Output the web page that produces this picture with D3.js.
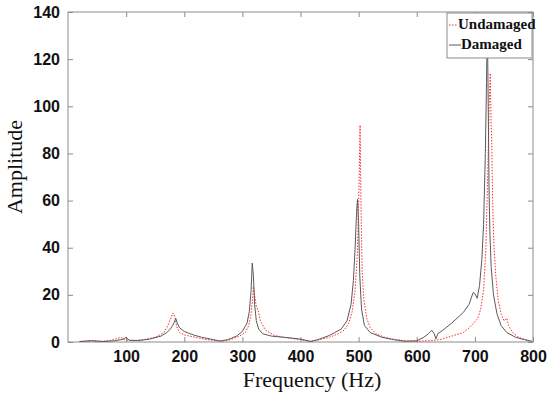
<!DOCTYPE html>
<html>
<head>
<meta charset="utf-8">
<script src="https://cdn.jsdelivr.net/npm/d3@7"></script>
<style>
  body { margin: 0; background: #fff; }
  svg { display: block; }
</style>
</head>
<body>
<svg id="chart" width="550" height="398"></svg>
<script>
// frequency (Hz) / amplitude pairs
var damagedFreq = [20, 40, 60, 80, 95, 100, 105, 120, 140, 160, 170, 176, 180, 183, 185.5, 188, 192, 200, 210, 216, 230, 250, 262, 275, 290, 300, 308, 312, 315, 317, 319, 321, 324, 328, 335, 350, 380, 400, 418, 430, 450, 470, 480, 487, 491, 494, 496.5, 498, 500, 502, 505, 510, 520, 540, 560, 580, 600, 612, 620, 626, 630, 633, 636, 645, 660, 680, 690, 697, 700, 704, 708, 712, 715, 718, 720, 721.5, 723, 724.5, 726, 728, 732, 738, 745, 755, 770, 785, 798];
var damagedAmp = [0.2, 0.6, 0.2, 0.5, 1.2, 2.0, 0.8, 0.6, 1.2, 2.5, 4, 5.5, 7, 8.5, 10, 8, 6, 4.5, 3.5, 3, 2, 1, 0.4, 1, 2.5, 4.5, 8, 13, 22, 33.5, 28, 16, 9, 5.5, 3.5, 2.5, 1.8, 1.2, 0.2, 1, 2.8, 5.5, 9, 16, 26, 40, 55, 60.5, 50, 28, 14, 7, 4, 2, 1, 0.3, 0.5, 2, 3.5, 5, 3.5, 1.3, 3.5, 5, 8, 12.5, 16, 21, 20.5, 18.5, 24, 35, 50, 80, 110, 135, 100, 62, 45, 32, 20, 12, 7, 4, 2, 1, 0.3];

var undamagedFreq = [20, 40, 60, 75, 85, 91, 97, 110, 130, 150, 165, 172, 176, 179, 181, 184, 187, 192, 200, 215, 235, 255, 265, 280, 295, 305, 311, 315, 317.5, 319, 321, 324, 327, 331, 340, 355, 375, 400, 415, 430, 450, 465, 475, 483, 489, 494, 498, 501, 502.5, 504, 506, 509, 514, 520, 530, 545, 560, 580, 600, 620, 640, 660, 680, 690, 698, 705, 710, 715, 719, 722, 724.5, 726.5, 728, 729, 730.5, 733, 736, 740, 745, 750, 755, 758, 765, 775, 790, 798];
var undamagedAmp = [0.2, 0.4, 0.3, 0.8, 1.5, 2, 1, 0.5, 1, 2, 4, 7, 9.5, 11.5, 12.3, 10.5, 6.5, 4, 3, 2.2, 1.2, 0.5, 0.4, 1, 2.5, 4, 7, 12, 18, 23.5, 20, 15, 13.5, 9, 5, 2.8, 1.8, 1, 0.3, 0.8, 2, 3.5, 5, 8, 13, 22, 38, 70, 92, 60, 30, 18, 10, 6, 3.5, 2, 1.2, 0.5, 0.3, 0.5, 1, 2.5, 4, 6, 8, 10, 14, 22, 40, 70, 100, 114, 92, 86, 60, 40, 28, 18, 12, 9, 10, 7, 4, 2, 0.8, 0.3];

var xTicks = [100, 200, 300, 400, 500, 600, 700, 800];
var yTicks = [0, 20, 40, 60, 80, 100, 120, 140];
var legendNames = ["Undamaged", "Damaged"];

var margin = {left: 68, right: 17, top: 12, bottom: 56};
var width = 550 - margin.left - margin.right;
var height = 398 - margin.top - margin.bottom;

var svg = d3.select("#chart");
var g = svg.append("g").attr("transform", "translate(" + margin.left + "," + margin.top + ")");

var x = d3.scaleLinear().domain([0, 800]).range([0, width]);
var y = d3.scaleLinear().domain([0, 140]).range([height, 0]);

var axisColor = "#8c8c8c";
var damagedColor = "#5a5a5a";
var undamagedColor = "#ff2a2a";

// box
g.append("rect")
  .attr("width", width)
  .attr("height", height)
  .attr("fill", "none")
  .attr("stroke", axisColor)
  .attr("stroke-width", 1);

// inward ticks on all four sides
var tickLen = 5;
var bottomAxis = g.append("g").attr("transform", "translate(0," + height + ")")
  .call(d3.axisBottom(x).tickValues(xTicks).tickSizeInner(-tickLen).tickSizeOuter(0).tickPadding(9));
var topAxis = g.append("g")
  .call(d3.axisTop(x).tickValues(xTicks).tickSizeInner(-tickLen).tickSizeOuter(0).tickFormat(""));
var leftAxis = g.append("g")
  .call(d3.axisLeft(y).tickValues(yTicks).tickSizeInner(-tickLen).tickSizeOuter(0).tickPadding(8));
var rightAxis = g.append("g").attr("transform", "translate(" + width + ",0)")
  .call(d3.axisRight(y).tickValues(yTicks).tickSizeInner(-tickLen).tickSizeOuter(0).tickFormat(""));

[bottomAxis, topAxis, leftAxis, rightAxis].forEach(function(ax) {
  ax.select(".domain").remove();
  ax.selectAll("line").attr("stroke", axisColor);
  ax.selectAll("text")
    .attr("fill", "#111")
    .style("font-family", "Arial, 'Liberation Sans', sans-serif")
    .style("font-size", "16px")
    .style("font-weight", "bold");
});

var line = d3.line()
  .x(function(d) { return x(d[0]); })
  .y(function(d) { return y(d[1]); });

var undamaged = undamagedFreq.map(function(f, i) { return [f, undamagedAmp[i]]; });
var damaged = damagedFreq.map(function(f, i) { return [f, damagedAmp[i]]; });

g.append("path")
  .datum(undamaged)
  .attr("d", line)
  .attr("fill", "none")
  .attr("stroke", undamagedColor)
  .attr("stroke-width", 1)
  .attr("stroke-dasharray", "1.5,1.5");

g.append("path")
  .datum(damaged)
  .attr("d", line)
  .attr("fill", "none")
  .attr("stroke", damagedColor)
  .attr("stroke-width", 1);

// axis titles
svg.append("text")
  .attr("x", 312)
  .attr("y", 387)
  .attr("text-anchor", "middle")
  .style("font-family", "'Liberation Serif', 'Times New Roman', serif")
  .style("font-size", "22px")
  .attr("fill", "#111")
  .text("Frequency (Hz)");

svg.append("text")
  .attr("transform", "translate(22,167) rotate(-90)")
  .attr("text-anchor", "middle")
  .style("font-family", "'Liberation Serif', 'Times New Roman', serif")
  .style("font-size", "22px")
  .attr("fill", "#111")
  .text("Amplitude");

// legend
var leg = svg.append("g").attr("transform", "translate(447,13)");
leg.append("rect")
  .attr("width", 85)
  .attr("height", 45)
  .attr("fill", "#fff")
  .attr("stroke", axisColor);

leg.append("line")
  .attr("x1", 2).attr("x2", 11).attr("y1", 12).attr("y2", 12)
  .attr("stroke", undamagedColor).attr("stroke-dasharray", "1.5,1.5");
leg.append("line")
  .attr("x1", 2).attr("x2", 14).attr("y1", 32).attr("y2", 32)
  .attr("stroke", damagedColor);

leg.selectAll("text.name")
  .data(legendNames)
  .enter().append("text")
  .attr("class", "name")
  .attr("x", function(d, i) { return i == 0 ? 11 : 14; })
  .attr("y", function(d, i) { return 16 + i * 20; })
  .style("font-family", "'Liberation Serif', 'Times New Roman', serif")
  .style("font-size", "15px")
  .style("font-weight", "bold")
  .attr("fill", "#111")
  .text(function(d) { return d; });
</script>
</body>
</html>
